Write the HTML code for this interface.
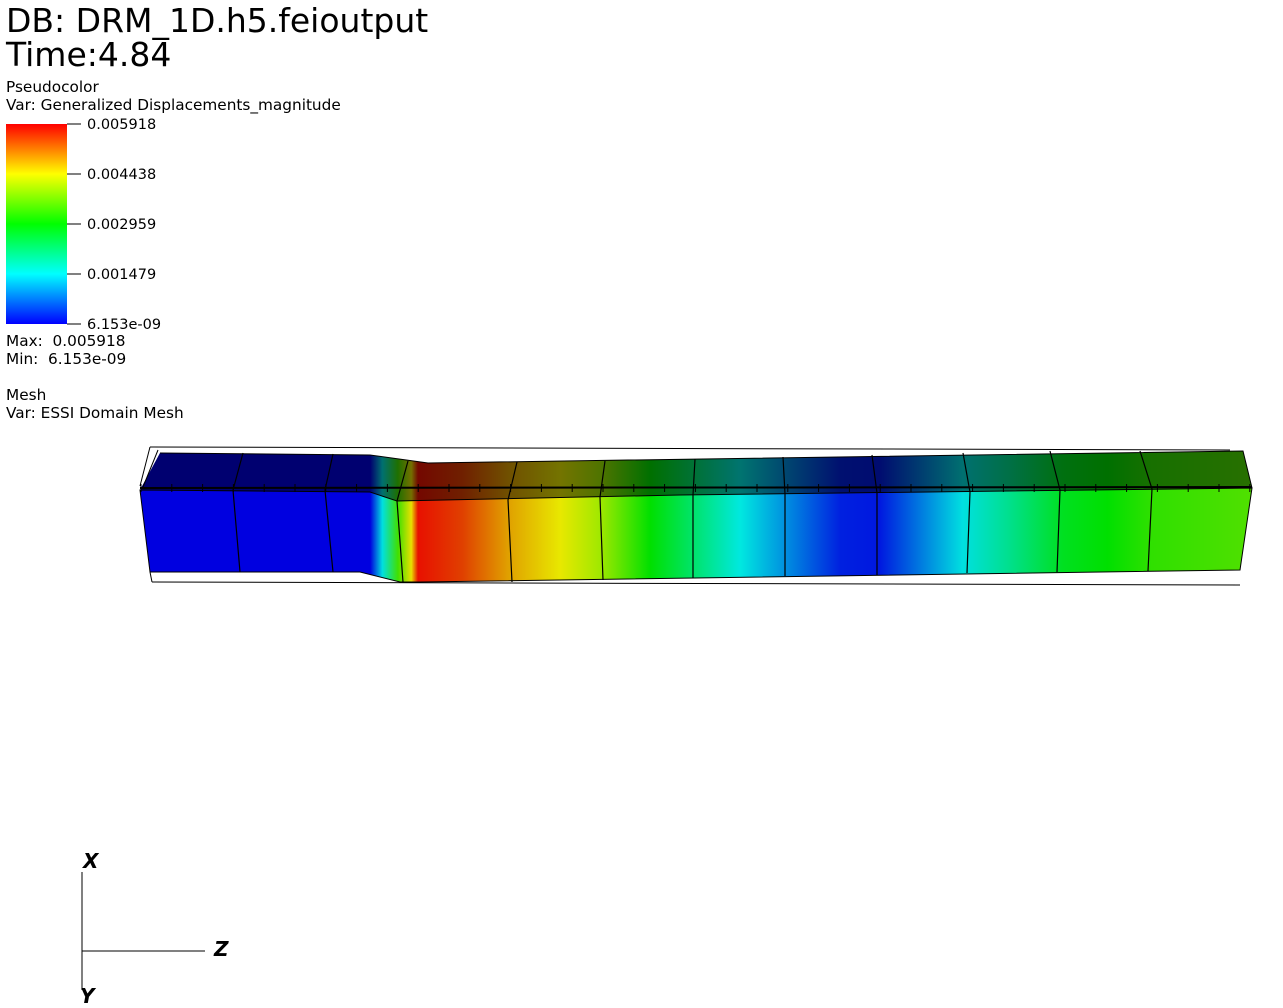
<!DOCTYPE html>
<html><head><meta charset="utf-8"><style>
body{margin:0;background:#fff;width:1283px;height:1008px;overflow:hidden;font-family:"DejaVu Sans","Liberation Sans",sans-serif;}
svg{position:absolute;left:0;top:0}
text{white-space:pre}
</style></head><body>
<svg width="1283" height="1008">
<defs>
<linearGradient id="cb" x1="0" y1="1" x2="0" y2="0">
<stop offset="0" stop-color="#0000ff"/><stop offset="0.25" stop-color="#00ffff"/><stop offset="0.5" stop-color="#00ff00"/><stop offset="0.75" stop-color="#ffff00"/><stop offset="1" stop-color="#ff0000"/>
</linearGradient>
<linearGradient id="beam" gradientUnits="userSpaceOnUse" x1="140" y1="0" x2="1252" y2="0">
<stop offset="0" stop-color="#0000e0"/><stop offset="0.207" stop-color="#0000e0"/>
<stop offset="0.218" stop-color="#00e0e0"/><stop offset="0.232" stop-color="#40e000"/>
<stop offset="0.244" stop-color="#e8e000"/><stop offset="0.25" stop-color="#e81000"/>
<stop offset="0.29" stop-color="#e04000"/><stop offset="0.331" stop-color="#e0a000"/>
<stop offset="0.378" stop-color="#e8e800"/><stop offset="0.414" stop-color="#a0e800"/>
<stop offset="0.459" stop-color="#00e000"/><stop offset="0.54" stop-color="#00e8e0"/>
<stop offset="0.58" stop-color="#0090e0"/><stop offset="0.63" stop-color="#0020e0"/>
<stop offset="0.665" stop-color="#0018e0"/><stop offset="0.71" stop-color="#0090e0"/>
<stop offset="0.74" stop-color="#00e0e0"/><stop offset="0.78" stop-color="#00e090"/>
<stop offset="0.83" stop-color="#00e020"/><stop offset="0.87" stop-color="#00e000"/>
<stop offset="0.91" stop-color="#30e000"/><stop offset="1" stop-color="#50e000"/>
</linearGradient>
<pattern id="ticks" patternUnits="userSpaceOnUse" x="140" y="0" width="30.8" height="20">
<line x1="1" y1="0" x2="1" y2="20" stroke="#000" stroke-width="1"/>
</pattern>
</defs>
<g font-size="33" fill="#000">
<text x="6" y="32">DB: DRM_1D.h5.feioutput</text>
<text x="6" y="66">Time:4.84</text>
</g>
<g font-size="15.3" fill="#000">
<text x="6" y="92">Pseudocolor</text>
<text x="6" y="110">Var: Generalized Displacements_magnitude</text>
<text x="6" y="346">Max:  0.005918</text>
<text x="6" y="364">Min:  6.153e-09</text>
<text x="6" y="400">Mesh</text>
<text x="6" y="418">Var: ESSI Domain Mesh</text>
</g>
<rect x="6" y="124" width="61" height="200" fill="url(#cb)"/>
<g id="cbticks"></g>
<g>
<path d="M160,453 L370,455 L428,463 L1243,451 L1252,488 L680,495 L397,501 L370,492 L140,490 Z" fill="url(#beam)"/>
<path d="M160,453 L370,455 L428,463 L1243,451 L1252,488 L680,495 L397,501 L370,492 L140,490 Z" fill="#000" opacity="0.5"/>
<path d="M140,490 L370,492 L397,501 L680,495 L1252,488 L1240,570 L420,582 L400,582 L360,572 L150,572 Z" fill="url(#beam)" stroke="#000" stroke-width="1"/>
<path d="M160,453 L370,455 L428,463 L1243,451 L1252,488" fill="none" stroke="#000"/>
<g stroke="#000" stroke-width="1.2" fill="none">
<path d="M243,453 L233,490 L240,572"/><path d="M333,454 L325,490 L333,572"/>
<path d="M408,461 L397,501 L403,582"/><path d="M517,462 L508,500 L512,582"/>
<path d="M605,461 L600,497 L603,580"/><path d="M695,459 L693,495 L693,578"/>
<path d="M783,457 L785,494 L785,576"/><path d="M872,455 L877,493 L877,575"/>
<path d="M963,453 L970,492 L967,573"/><path d="M1050,451 L1060,490 L1057,572"/>
<path d="M1140,451 L1152,489 L1148,571"/>
</g>
<rect x="140" y="484" width="1112" height="8" fill="url(#ticks)"/>
<line x1="140" y1="488" x2="1252" y2="487" stroke="#000" stroke-width="2"/>
<g stroke="#000" fill="none">
<path d="M150,447 L1230,450"/><path d="M152,582 L1240,585"/>
<path d="M140,486 L150,447"/><path d="M143,487 L158,450"/><path d="M150,572 L152,582"/>
</g>
</g>
<g stroke="#000" stroke-width="1">
<line x1="82" y1="872" x2="82" y2="990"/><line x1="82" y1="951" x2="205" y2="951"/>
</g>
<g font-size="20" font-weight="bold" font-style="italic" fill="#000">
<text x="83" y="868">X</text><text x="214" y="956">Z</text><text x="80" y="1003">Y</text>
</g>
</svg>
<script>
const tickLabels=["0.005918","0.004438","0.002959","0.001479","6.153e-09"];
const tickFrac=[1,0.75,0.5,0.25,0];
const g=document.getElementById('cbticks');
const NS="http://www.w3.org/2000/svg";
function yOf(f){return 324-f*200;}
tickLabels.forEach((t,i)=>{
 const y=yOf(tickFrac[i]);
 const l=document.createElementNS(NS,'line');
 
 
 l.setAttribute('x1',67);l.setAttribute('x2',81);l.setAttribute('y1',y);l.setAttribute('y2',y);l.setAttribute('stroke','#000');
 g.appendChild(l);
 const tx=document.createElementNS(NS,'text');
 
 
 tx.setAttribute('x',87);tx.setAttribute('y',y+5);tx.setAttribute('font-size','14.5');
 tx.textContent=t;g.appendChild(tx);
});
</script>
</body></html>
